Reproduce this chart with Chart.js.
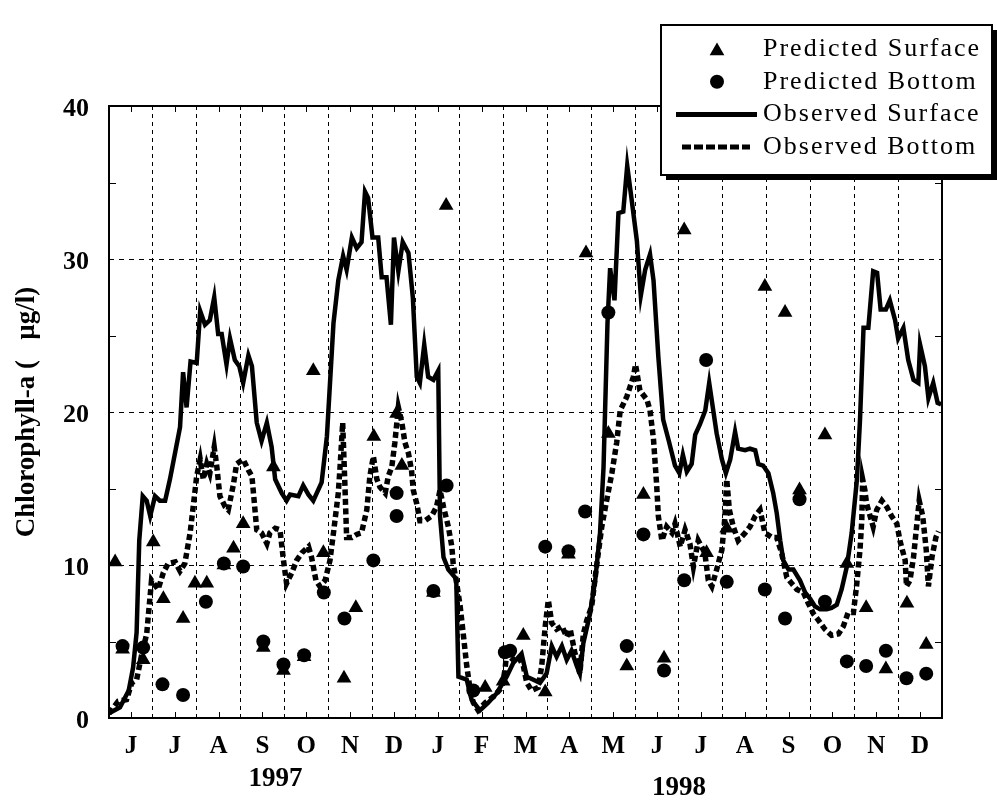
<!DOCTYPE html>
<html>
<head>
<meta charset="utf-8">
<script src="https://cdn.jsdelivr.net/npm/chart.js@4.4.1/dist/chart.umd.min.js"></script>
<style>
  html, body { margin: 0; padding: 0; background: #fff; }
  #wrap { width: 997px; height: 800px; }
</style>
</head>
<body>
<div id="wrap"><canvas id="chl" width="997" height="800"></canvas></div>
<script>
// x is in months counted from 1 June 1997 (0 = Jun 1, 19 = end of Dec 1998)
const months = ['J', 'J', 'A', 'S', 'O', 'N', 'D', 'J', 'F', 'M', 'A', 'M', 'J', 'J', 'A', 'S', 'O', 'N', 'D'];
const years = ['1997', '1998'];
const yTicks = [0, 10, 20, 30, 40];

// model results
const predictedSurface = [
  [0.14, 10.2], [0.31, 4.5], [0.78, 3.8], [1.01, 11.5], [1.24, 7.8], [1.69, 6.5], [1.96, 8.8],
  [2.23, 8.8], [2.62, 10.0], [2.84, 11.1], [3.06, 12.7], [3.52, 4.6], [3.75, 16.4], [3.98, 3.1],
  [4.45, 4.0], [4.66, 22.7], [4.89, 10.8], [5.36, 2.6], [5.63, 7.2], [6.04, 18.4], [6.56, 19.9],
  [6.68, 16.5], [7.40, 8.2], [7.69, 33.5], [8.58, 2.0], [8.99, 2.4], [9.45, 5.4], [9.95, 1.7],
  [10.48, 10.7], [10.88, 30.4], [11.39, 18.6], [11.81, 3.4], [12.19, 14.6], [12.66, 3.9],
  [13.12, 31.9], [13.63, 10.8], [14.09, 12.4], [14.96, 28.2], [15.42, 26.5], [15.75, 14.9],
  [16.33, 18.5], [16.83, 10.1], [17.27, 7.2], [17.72, 3.2], [18.20, 7.5], [18.64, 4.8]
];
const predictedBottom = [
  [0.31, 4.7], [0.78, 4.6], [1.22, 2.2], [1.69, 1.5], [2.21, 7.6], [2.62, 10.1], [3.06, 9.9],
  [3.52, 5.0], [3.98, 3.5], [4.45, 4.1], [4.90, 8.2], [5.37, 6.5], [6.03, 10.3], [6.56, 14.7],
  [6.56, 13.2], [7.40, 8.3], [7.70, 15.2], [8.31, 1.8], [9.03, 4.3], [9.15, 4.4], [9.95, 11.2],
  [10.48, 10.9], [10.86, 13.5], [11.39, 26.5], [11.81, 4.7], [12.19, 12.0], [12.66, 3.1],
  [13.12, 9.0], [13.62, 23.4], [14.09, 8.9], [14.96, 8.4], [15.42, 6.5], [15.75, 14.3],
  [16.33, 7.6], [16.83, 3.7], [17.27, 3.4], [17.72, 4.4], [18.19, 2.6], [18.64, 2.9]
];

// field data
const observedSurface = [
  [0.00, 0.3], [0.25, 0.7], [0.45, 1.8], [0.55, 3.3], [0.63, 5.6], [0.69, 11.6], [0.77, 14.5],
  [0.86, 14.2], [0.94, 13.2], [1.05, 14.5], [1.16, 14.2], [1.28, 14.2], [1.39, 15.6], [1.62, 19.0],
  [1.69, 22.6], [1.77, 20.3], [1.86, 23.3], [2.00, 23.2], [2.08, 26.6], [2.19, 25.7], [2.30, 26.0],
  [2.40, 27.5], [2.49, 25.1], [2.57, 25.1], [2.68, 23.1], [2.76, 24.8], [2.87, 23.4], [2.97, 23.0],
  [3.06, 21.9], [3.18, 23.7], [3.26, 23.0], [3.37, 19.3], [3.48, 18.1], [3.60, 19.3], [3.71, 17.7],
  [3.79, 15.6], [3.94, 14.7], [4.05, 14.2], [4.13, 14.6], [4.32, 14.5], [4.43, 15.2], [4.55, 14.6],
  [4.66, 14.2], [4.85, 15.4], [4.97, 18.4], [5.12, 25.8], [5.23, 28.6], [5.34, 30.2], [5.42, 29.3],
  [5.54, 31.4], [5.65, 30.7], [5.76, 31.1], [5.84, 34.4], [5.91, 34.0], [6.01, 31.4], [6.14, 31.4],
  [6.22, 28.8], [6.33, 28.8], [6.43, 25.7], [6.50, 31.4], [6.60, 29.2], [6.70, 31.1], [6.83, 30.4],
  [6.93, 27.5], [7.02, 22.3], [7.09, 21.9], [7.19, 24.4], [7.28, 22.3], [7.40, 22.1], [7.51, 22.7],
  [7.55, 13.2], [7.63, 10.5], [7.74, 9.7], [7.92, 9.1], [7.97, 2.7], [8.16, 2.5], [8.27, 1.2],
  [8.46, 0.5], [8.65, 1.0], [8.84, 1.6], [9.07, 2.7], [9.22, 3.6], [9.41, 4.2], [9.53, 2.7],
  [9.68, 2.5], [9.83, 2.3], [9.98, 2.9], [10.10, 4.7], [10.21, 4.0], [10.33, 4.7], [10.44, 3.8],
  [10.55, 4.4], [10.67, 3.4], [10.74, 2.9], [10.82, 4.9], [10.97, 6.8], [11.09, 9.0], [11.20, 12.1],
  [11.28, 16.4], [11.37, 25.8], [11.43, 29.4], [11.53, 27.3], [11.62, 33.0], [11.73, 33.1],
  [11.82, 36.1], [11.92, 33.9], [12.04, 31.2], [12.13, 27.6], [12.23, 29.3], [12.34, 30.3],
  [12.42, 28.6], [12.53, 23.6], [12.64, 19.5], [12.76, 18.2], [12.91, 16.5], [13.01, 16.0],
  [13.09, 17.2], [13.18, 16.1], [13.29, 16.6], [13.37, 18.5], [13.48, 19.2], [13.60, 20.1],
  [13.69, 21.9], [13.86, 18.6], [13.98, 16.9], [14.07, 16.0], [14.17, 16.9], [14.28, 18.7],
  [14.35, 17.6], [14.51, 17.5], [14.62, 17.6], [14.74, 17.5], [14.81, 16.6], [14.92, 16.5],
  [15.04, 16.0], [15.15, 14.7], [15.23, 13.4], [15.31, 11.6], [15.38, 10.3], [15.50, 9.7],
  [15.61, 9.7], [15.76, 9.0], [15.88, 8.2], [15.99, 7.8], [16.10, 7.3], [16.22, 7.1], [16.37, 7.1],
  [16.48, 7.2], [16.60, 7.4], [16.71, 8.4], [16.83, 9.9], [16.94, 12.1], [17.06, 15.6],
  [17.13, 19.5], [17.21, 25.5], [17.32, 25.5], [17.43, 29.2], [17.52, 29.1], [17.60, 26.7],
  [17.72, 26.7], [17.81, 27.3], [17.93, 26.0], [18.00, 24.8], [18.12, 25.5], [18.23, 23.4],
  [18.35, 22.1], [18.46, 21.9], [18.50, 24.4], [18.61, 23.0], [18.69, 20.9], [18.80, 21.9],
  [18.90, 20.6], [18.98, 20.5]
];
const observedBottom = [
  [0.00, 0.3], [0.21, 1.1], [0.40, 1.2], [0.52, 2.3], [0.63, 2.5], [0.75, 4.2], [0.86, 5.5],
  [0.97, 9.0], [1.12, 8.4], [1.24, 9.5], [1.35, 10.1], [1.51, 10.2], [1.62, 9.6], [1.73, 10.1],
  [1.85, 12.1], [1.92, 13.8], [2.00, 15.8], [2.08, 16.9], [2.15, 15.6], [2.23, 16.6], [2.30, 16.0],
  [2.40, 17.7], [2.46, 16.4], [2.53, 14.5], [2.65, 13.8], [2.72, 13.6], [2.84, 15.3], [2.91, 16.6],
  [3.06, 16.9], [3.18, 16.2], [3.26, 15.8], [3.33, 13.6], [3.37, 12.3], [3.48, 12.1], [3.60, 11.4],
  [3.67, 12.1], [3.79, 12.4], [3.90, 12.3], [3.98, 10.3], [4.05, 8.8], [4.17, 9.5], [4.28, 10.3],
  [4.40, 10.8], [4.55, 11.2], [4.62, 10.5], [4.72, 9.0], [4.81, 8.6], [4.93, 9.0], [5.04, 10.3],
  [5.12, 12.1], [5.23, 14.7], [5.27, 16.4], [5.33, 19.3], [5.38, 15.3], [5.42, 11.8], [5.54, 11.8],
  [5.65, 12.0], [5.76, 12.1], [5.88, 13.6], [5.95, 15.8], [6.03, 17.1], [6.11, 15.6], [6.18, 15.1],
  [6.30, 14.7], [6.37, 15.8], [6.45, 16.4], [6.52, 18.0], [6.60, 20.3], [6.68, 19.3], [6.75, 18.0],
  [6.83, 17.3], [6.90, 16.2], [6.94, 14.9], [7.02, 14.0], [7.09, 12.9], [7.21, 12.9], [7.36, 13.2],
  [7.47, 13.8], [7.55, 14.9], [7.63, 13.8], [7.74, 12.5], [7.82, 11.2], [7.85, 10.1], [7.93, 8.8],
  [8.01, 7.3], [8.08, 5.5], [8.16, 3.4], [8.24, 1.8], [8.31, 1.0], [8.42, 0.5], [8.58, 1.0],
  [8.77, 1.4], [8.96, 2.0], [9.03, 3.1], [9.07, 4.2], [9.22, 3.8], [9.34, 4.0], [9.45, 3.4],
  [9.53, 2.3], [9.64, 1.8], [9.79, 2.0], [9.87, 3.4], [9.95, 6.0], [10.02, 7.7], [10.10, 6.2],
  [10.21, 5.8], [10.33, 6.0], [10.44, 5.3], [10.52, 5.8], [10.63, 4.2], [10.74, 2.9], [10.82, 5.5],
  [10.90, 6.4], [11.01, 7.3], [11.12, 9.9], [11.24, 12.5], [11.35, 14.2], [11.47, 16.0],
  [11.58, 18.0], [11.66, 20.1], [11.81, 21.0], [11.96, 22.3], [12.01, 23.1], [12.11, 21.4],
  [12.27, 20.8], [12.34, 20.1], [12.42, 18.2], [12.49, 15.3], [12.53, 13.2], [12.61, 11.6],
  [12.72, 12.5], [12.84, 12.1], [12.91, 12.7], [13.03, 11.2], [13.14, 12.3], [13.25, 11.4],
  [13.33, 9.9], [13.44, 11.6], [13.59, 10.8], [13.67, 9.0], [13.75, 8.6], [13.86, 9.7],
  [13.98, 11.0], [14.05, 13.2], [14.09, 15.6], [14.15, 13.6], [14.24, 12.5], [14.35, 11.6],
  [14.51, 12.1], [14.62, 12.5], [14.74, 13.2], [14.85, 13.6], [14.96, 12.1], [15.12, 11.8],
  [15.23, 11.8], [15.34, 10.8], [15.46, 9.2], [15.57, 8.8], [15.69, 8.4], [15.84, 8.2],
  [15.95, 7.5], [16.07, 6.8], [16.18, 6.4], [16.33, 5.8], [16.48, 5.4], [16.64, 5.5], [16.75, 6.0],
  [16.86, 6.9], [16.98, 6.9], [17.05, 8.6], [17.13, 11.0], [17.17, 12.9], [17.19, 15.6],
  [17.24, 14.9], [17.28, 14.0], [17.36, 13.2], [17.43, 12.5], [17.51, 13.6], [17.63, 14.2],
  [17.74, 13.8], [17.85, 13.2], [17.97, 12.7], [18.04, 11.6], [18.16, 10.3], [18.19, 8.6],
  [18.27, 9.0], [18.35, 10.5], [18.42, 12.5], [18.48, 14.2], [18.56, 13.2], [18.64, 11.0],
  [18.69, 8.6], [18.77, 10.5], [18.86, 11.8], [18.92, 12.2]
];

const serif = '"Liberation Serif", "Times New Roman", serif';
const toXY = pairs => pairs.map(([x, y]) => ({ x, y }));
const isHalf = v => Math.abs(v - Math.floor(v) - 0.5) < 0.01;

// frame, inward ticks, year captions and the boxed legend
const decorPlugin = {
  id: 'decor',
  afterDraw(chart) {
    const { ctx, chartArea: a, scales: { x, y } } = chart;
    ctx.save();
    ctx.strokeStyle = '#000';
    ctx.lineWidth = 1;
    ctx.beginPath();
    for (let m = 0.5; m < 19; m += 1) {
      const px = Math.round(x.getPixelForValue(m)) + 0.5;
      ctx.moveTo(px, a.bottom); ctx.lineTo(px, a.bottom - 6);
      ctx.moveTo(px, a.top); ctx.lineTo(px, a.top + 6);
    }
    for (let v = 5; v < 40; v += 10) {
      const py = Math.round(y.getPixelForValue(v)) + 0.5;
      ctx.moveTo(a.left, py); ctx.lineTo(a.left + 7, py);
      ctx.moveTo(a.right, py); ctx.lineTo(a.right - 7, py);
    }
    ctx.stroke();
    ctx.lineWidth = 2;
    ctx.strokeRect(a.left, a.top, a.width, a.height);

    ctx.fillStyle = '#000';
    ctx.font = 'bold 27px ' + serif;
    ctx.textAlign = 'center';
    ctx.textBaseline = 'middle';
    ctx.fillText(years[0], x.getPixelForValue(3.8), 779);
    ctx.fillText(years[1], x.getPixelForValue(13.0), 788);

    // legend box with drop shadow
    const box = { left: 661, top: 25, right: 992, bottom: 175 };
    const w = box.right - box.left, h = box.bottom - box.top;
    ctx.fillStyle = '#000';
    ctx.fillRect(box.left + 5, box.top + 5, w, h);
    ctx.fillStyle = '#fff';
    ctx.fillRect(box.left, box.top, w, h);
    ctx.lineWidth = 2;
    ctx.strokeRect(box.left, box.top, w, h);

    const rowY = i => 49 + i * 32.7;
    const symX = 717;
    ctx.fillStyle = '#000';
    ctx.beginPath();
    const r = 8.5, ty = rowY(0) + 2;
    ctx.moveTo(symX, ty - r);
    ctx.lineTo(symX + r * 0.866, ty + r / 2);
    ctx.lineTo(symX - r * 0.866, ty + r / 2);
    ctx.closePath();
    ctx.fill();
    ctx.beginPath();
    ctx.arc(symX, rowY(1), 7, 0, Math.PI * 2);
    ctx.fill();
    ctx.lineWidth = 5;
    ctx.beginPath();
    ctx.moveTo(676, rowY(2)); ctx.lineTo(757, rowY(2));
    ctx.stroke();
    ctx.setLineDash([9, 3]);
    ctx.beginPath();
    ctx.moveTo(682, rowY(3)); ctx.lineTo(750, rowY(3));
    ctx.stroke();
    ctx.setLineDash([]);

    ctx.font = '26px ' + serif;
    ctx.letterSpacing = '2px';
    ctx.textAlign = 'left';
    chart.data.datasets.forEach((ds, i) => ctx.fillText(ds.label, 763, rowY(i)));
    ctx.restore();
  }
};

new Chart(document.getElementById('chl'), {
  type: 'scatter',
  data: {
    datasets: [
      {
        label: 'Predicted Surface',
        data: toXY(predictedSurface),
        pointStyle: 'triangle',
        pointRadius: 8.5,
        backgroundColor: '#000',
        borderColor: '#000',
        borderWidth: 0
      },
      {
        label: 'Predicted Bottom',
        data: toXY(predictedBottom),
        pointStyle: 'circle',
        pointRadius: 7,
        backgroundColor: '#000',
        borderColor: '#000',
        borderWidth: 0
      },
      {
        label: 'Observed Surface',
        data: toXY(observedSurface),
        showLine: true,
        borderColor: '#000',
        borderWidth: 4.5,
        pointRadius: 0,
        tension: 0
      },
      {
        label: 'Observed Bottom',
        data: toXY(observedBottom),
        showLine: true,
        borderColor: '#000',
        borderWidth: 5.5,
        borderDash: [6, 3.5],
        pointRadius: 0,
        tension: 0
      }
    ]
  },
  options: {
    responsive: false,
    animation: false,
    devicePixelRatio: 1,
    layout: { padding: { top: 106, right: 55, left: 0, bottom: 0 } },
    plugins: {
      legend: { display: false },
      tooltip: { enabled: false }
    },
    scales: {
      x: {
        type: 'linear',
        min: 0,
        max: 19,
        afterFit: s => { s.height = 82; },
        ticks: {
          stepSize: 0.5,
          autoSkip: false,
          maxRotation: 0,
          padding: 14,
          color: '#000',
          font: { family: serif, size: 25, weight: 'bold' },
          callback: v => (isHalf(v) ? months[Math.floor(v)] : '')
        },
        grid: {
          drawTicks: false,
          lineWidth: 1,
          color: c => (isHalf(c.tick.value) ? 'rgba(0,0,0,0)' : '#000')
        },
        border: { display: false, dash: [4, 4] }
      },
      y: {
        min: 0,
        max: 40,
        afterFit: s => { s.width = 109; },
        ticks: {
          stepSize: 5,
          padding: 20,
          labelOffset: 3,
          color: '#000',
          font: { family: serif, size: 26, weight: 'bold' },
          callback: v => (yTicks.includes(v) ? v : '')
        },
        grid: {
          drawTicks: false,
          lineWidth: 1,
          color: c => (c.tick.value % 10 === 0 ? '#000' : 'rgba(0,0,0,0)')
        },
        border: { display: false, dash: [5, 5] },
        title: {
          display: true,
          text: 'Chlorophyll-a (   µg/l)',
          color: '#000',
          font: { family: serif, size: 27, weight: 'bold' },
          padding: { top: 11, bottom: 0 }
        }
      }
    }
  },
  plugins: [decorPlugin]
});
</script>
</body>
</html>
